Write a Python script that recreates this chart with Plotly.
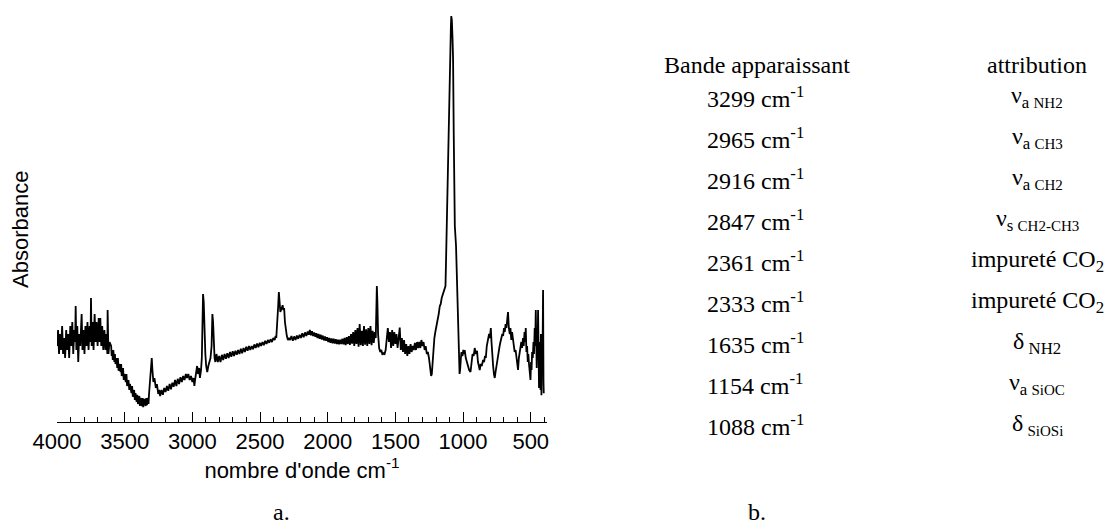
import plotly.graph_objects as go

# ---- spectrum data (wavenumber cm-1, absorbance a.u.) ----
region_oh = [
    (4000, 0.19), (3992, 0.23), (3985, 0.17), (3978, 0.22), (3970, 0.18), (3962, 0.24),
    (3955, 0.17), (3948, 0.21), (3940, 0.16), (3932, 0.23), (3925, 0.18), (3917, 0.22),
    (3910, 0.16), (3902, 0.24), (3895, 0.19), (3887, 0.25), (3880, 0.17), (3872, 0.23),
    (3866, 0.20), (3862, 0.29), (3857, 0.18), (3850, 0.24), (3843, 0.15), (3836, 0.22),
    (3828, 0.19), (3818, 0.27), (3812, 0.18), (3805, 0.23), (3797, 0.17), (3790, 0.24),
    (3782, 0.19), (3775, 0.25), (3767, 0.18), (3759, 0.24), (3752, 0.20), (3749, 0.31),
    (3744, 0.19), (3737, 0.25), (3730, 0.18), (3722, 0.27), (3715, 0.20), (3708, 0.25),
    (3700, 0.19), (3692, 0.26), (3686, 0.20), (3680, 0.26), (3673, 0.19), (3666, 0.24),
    (3658, 0.18), (3650, 0.23), (3642, 0.18), (3635, 0.22), (3628, 0.17), (3626, 0.28),
    (3620, 0.17), (3612, 0.20),
]
region_nh = [
    (3600, 0.19), (3596, 0.165), (3592, 0.18), (3588, 0.155), (3584, 0.18), (3576, 0.15),
    (3572, 0.17), (3568, 0.145), (3560, 0.16), (3555, 0.135), (3550, 0.16), (3545, 0.128),
    (3540, 0.145), (3530, 0.125), (3526, 0.145), (3522, 0.115), (3512, 0.135), (3507, 0.105),
    (3502, 0.12), (3492, 0.10), (3487, 0.12), (3482, 0.09), (3472, 0.105), (3466, 0.08),
    (3461, 0.095), (3450, 0.072), (3445, 0.09), (3440, 0.063), (3430, 0.08), (3425, 0.055),
    (3420, 0.072), (3412, 0.05), (3407, 0.068), (3402, 0.045), (3392, 0.065), (3387, 0.04),
    (3382, 0.06), (3372, 0.04), (3367, 0.06), (3363, 0.037), (3354, 0.058), (3345, 0.04),
    (3340, 0.06), (3336, 0.042), (3328, 0.06), (3324, 0.045),
    (3320, 0.07), (3312, 0.10), (3305, 0.14), (3300, 0.16), (3295, 0.13), (3288, 0.10),
    (3280, 0.11), (3270, 0.085), (3262, 0.095), (3252, 0.07), (3245, 0.08), (3238, 0.065),
]
region_ch = [
    (3228, 0.08), (3218, 0.068), (3208, 0.085), (3198, 0.075), (3188, 0.09), (3178, 0.078),
    (3168, 0.095), (3158, 0.082), (3148, 0.098), (3138, 0.088), (3128, 0.105), (3118, 0.09),
    (3108, 0.108), (3098, 0.095), (3088, 0.112), (3078, 0.10), (3068, 0.115), (3058, 0.105),
    (3048, 0.12), (3040, 0.11), (3030, 0.12), (3020, 0.105), (3010, 0.115), (3000, 0.10),
    (2992, 0.11), (2985, 0.09), (2978, 0.11), (2970, 0.13), (2965, 0.14), (2958, 0.12),
    (2950, 0.135), (2944, 0.11), (2936, 0.13), (2930, 0.16), (2926, 0.24), (2921, 0.32),
    (2916, 0.30), (2910, 0.22), (2904, 0.17), (2898, 0.14), (2890, 0.125), (2882, 0.14),
    (2874, 0.15), (2866, 0.16), (2858, 0.19), (2852, 0.27), (2847, 0.25), (2842, 0.19),
    (2836, 0.16), (2830, 0.15),
]
region_slope = [
    (2822, 0.17), (2812, 0.15), (2802, 0.165), (2792, 0.15), (2782, 0.168), (2772, 0.155),
    (2762, 0.17), (2752, 0.158), (2742, 0.172), (2732, 0.16), (2722, 0.175), (2712, 0.163),
    (2702, 0.177), (2692, 0.165), (2682, 0.178), (2672, 0.168), (2662, 0.18), (2652, 0.17),
    (2642, 0.183), (2632, 0.172), (2622, 0.185), (2612, 0.175), (2602, 0.188), (2592, 0.178),
    (2582, 0.19), (2572, 0.18), (2562, 0.19), (2552, 0.182), (2542, 0.194), (2532, 0.185),
    (2522, 0.196), (2512, 0.187), (2502, 0.198), (2492, 0.19), (2482, 0.20), (2472, 0.192),
    (2462, 0.203), (2452, 0.195), (2442, 0.205), (2432, 0.198), (2422, 0.207), (2412, 0.20),
    (2402, 0.21), (2392, 0.205), (2385, 0.215),
]
region_co2 = [
    (2380, 0.21), (2373, 0.24), (2366, 0.29), (2361, 0.325), (2356, 0.30), (2350, 0.275),
    (2345, 0.28), (2338, 0.29), (2333, 0.292), (2328, 0.28), (2322, 0.285), (2316, 0.25),
    (2310, 0.23), (2302, 0.215), (2294, 0.205), (2286, 0.21),
]
region_flat = [
    (2278, 0.205), (2268, 0.215), (2258, 0.203), (2248, 0.214), (2238, 0.205), (2228, 0.216),
    (2218, 0.208), (2208, 0.218), (2198, 0.21), (2188, 0.222), (2178, 0.212), (2168, 0.224),
    (2158, 0.215), (2148, 0.226), (2140, 0.218), (2132, 0.23), (2124, 0.217), (2116, 0.227),
    (2108, 0.215), (2100, 0.224), (2092, 0.213), (2084, 0.222), (2076, 0.21), (2068, 0.22),
    (2060, 0.208), (2052, 0.218), (2044, 0.206), (2036, 0.216), (2028, 0.204), (2020, 0.214),
    (2012, 0.203), (2004, 0.212), (1996, 0.20), (1988, 0.21), (1980, 0.198), (1972, 0.209),
    (1964, 0.197), (1956, 0.208), (1948, 0.196), (1940, 0.207), (1932, 0.195), (1924, 0.206),
    (1916, 0.194), (1908, 0.206), (1900, 0.195), (1892, 0.208), (1884, 0.194), (1876, 0.21),
    (1868, 0.192), (1860, 0.212), (1852, 0.195), (1844, 0.215), (1836, 0.193), (1828, 0.22),
    (1820, 0.196), (1812, 0.225), (1804, 0.19), (1796, 0.23), (1788, 0.195), (1780, 0.235),
    (1772, 0.188), (1764, 0.245), (1756, 0.192), (1748, 0.228), (1740, 0.19), (1732, 0.24),
    (1724, 0.193), (1716, 0.232), (1708, 0.19), (1700, 0.235), (1692, 0.195), (1684, 0.24),
    (1676, 0.192), (1668, 0.228), (1660, 0.198), (1652, 0.225), (1645, 0.21),
]
region_nh2_bend = [
    (1640, 0.26), (1637, 0.34), (1633, 0.30), (1628, 0.22), (1620, 0.185), (1612, 0.175),
    (1604, 0.18), (1596, 0.168), (1588, 0.172), (1580, 0.17), (1572, 0.18), (1564, 0.205),
    (1556, 0.235), (1548, 0.20), (1540, 0.225), (1532, 0.185), (1524, 0.23), (1516, 0.19),
    (1508, 0.225), (1500, 0.195), (1492, 0.22), (1484, 0.185), (1476, 0.215), (1468, 0.236),
    (1460, 0.18), (1452, 0.21), (1444, 0.175), (1436, 0.205), (1428, 0.17), (1420, 0.195),
    (1412, 0.165), (1404, 0.19), (1396, 0.17), (1388, 0.195), (1380, 0.175), (1372, 0.19),
    (1364, 0.18), (1356, 0.198), (1348, 0.18), (1340, 0.20), (1332, 0.185), (1324, 0.20),
    (1316, 0.185), (1308, 0.205), (1300, 0.19), (1292, 0.20), (1284, 0.18), (1276, 0.19),
    (1268, 0.17), (1260, 0.175), (1252, 0.16), (1244, 0.13), (1236, 0.115), (1231, 0.12),
    (1226, 0.145),
]
region_sioc = [
    (1220, 0.18), (1212, 0.21), (1205, 0.225), (1196, 0.24), (1188, 0.255), (1180, 0.27),
    (1172, 0.29), (1165, 0.295), (1158, 0.31), (1150, 0.32), (1140, 0.33), (1130, 0.34),
    (1126, 0.40), (1120, 0.50), (1115, 0.62), (1110, 0.74), (1103, 0.82), (1096, 0.93),
    (1090, 0.99), (1087, 1.015), (1083, 1.005), (1078, 0.96), (1074, 0.91), (1069, 0.72),
    (1061, 0.49), (1052, 0.44), (1045, 0.36), (1038, 0.28), (1031, 0.17), (1026, 0.12),
    (1022, 0.13),
]
region_low = [
    (1016, 0.16), (1012, 0.175), (1005, 0.165), (998, 0.18), (992, 0.17), (988, 0.18),
    (980, 0.16), (972, 0.15), (963, 0.14), (955, 0.13), (945, 0.125), (938, 0.15),
    (930, 0.17), (922, 0.165), (914, 0.185), (906, 0.17), (897, 0.178), (890, 0.15),
    (884, 0.14), (877, 0.13), (870, 0.145), (862, 0.14), (852, 0.155), (845, 0.15),
    (838, 0.165), (832, 0.16), (825, 0.19), (818, 0.20), (812, 0.215), (808, 0.22),
    (802, 0.21), (795, 0.235), (790, 0.20), (785, 0.165), (778, 0.14), (772, 0.12),
    (766, 0.11), (760, 0.125), (754, 0.14), (748, 0.15), (742, 0.16), (736, 0.18),
    (730, 0.19), (724, 0.20), (717, 0.21), (710, 0.22), (704, 0.215), (698, 0.235),
    (692, 0.225), (686, 0.245), (680, 0.235), (674, 0.25), (668, 0.275), (662, 0.235),
    (655, 0.22), (650, 0.235), (644, 0.205), (638, 0.225), (631, 0.205), (625, 0.19),
    (619, 0.175), (612, 0.18), (606, 0.16), (600, 0.145), (594, 0.13), (588, 0.16),
    (582, 0.175), (576, 0.19), (570, 0.20), (564, 0.185), (557, 0.21), (552, 0.19),
    (546, 0.225), (541, 0.20), (537, 0.235), (532, 0.175), (527, 0.19), (522, 0.15),
    (518, 0.17), (513, 0.145), (508, 0.125), (502, 0.105), (498, 0.15), (494, 0.13),
    (490, 0.175), (485, 0.16), (480, 0.20), (476, 0.17), (471, 0.235), (467, 0.19),
    (463, 0.28), (459, 0.16), (456, 0.135), (452, 0.23), (449, 0.175), (446, 0.28),
    (443, 0.12), (439, 0.085), (435, 0.20), (432, 0.11), (428, 0.08), (425, 0.22),
    (421, 0.067), (418, 0.18), (414, 0.145), (411, 0.25), (409, 0.33), (406, 0.10),
    (404, 0.072),
]

x_range = [4000, 380]
y_range = [0, 1.03]
x_major_ticks = [4000, 3500, 3000, 2500, 2000, 1500, 1000, 500]
x_tick_labels = ["4000", "3500", "3000", "2500", "2000", "1500", "1000", "500"]

# ---- table (part b) ----
table_header = ["Bande apparaissant", "attribution"]
band_values = [3299, 2965, 2916, 2847, 2361, 2333, 1635, 1154, 1088]
band_attributions = [
    "ν<sub>a <span style='font-size:15px'>NH2</span></sub>",
    "ν<sub>a <span style='font-size:15px'>CH3</span></sub>",
    "ν<sub>a <span style='font-size:15px'>CH2</span></sub>",
    "ν<sub>s <span style='font-size:15px'>CH2-CH3</span></sub>",
    "impureté CO<sub>2</sub>",
    "impureté CO<sub>2</sub>",
    "δ<sub> NH2</sub>",
    "ν<sub>a <span style='font-size:15px'>SiOC</span></sub>",
    "δ<sub> <span style='font-size:15px'>SiOSi</span></sub>",
]

spectrum = (region_oh + region_nh + region_ch + region_slope + region_co2
            + region_flat + region_nh2_bend + region_sioc + region_low)
wavenumbers = [p[0] for p in spectrum]
absorbance = [p[1] for p in spectrum]

# page body has an 8px default margin: size the figure to compensate
OFF = 8
W, H = 1113 - OFF, 527 - OFF
PLOT_X0, PLOT_X1, PLOT_Y0, PLOT_Y1 = 57, 547, 10, 422   # target screen pixels
L, T = PLOT_X0 - OFF, PLOT_Y0 - OFF
R, B = 1113 - PLOT_X1, 527 - PLOT_Y1
PW, PH = PLOT_X1 - PLOT_X0, PLOT_Y1 - PLOT_Y0


def px2paper(px, py):
    return (px - PLOT_X0) / PW, (PLOT_Y1 - py) / PH


fig = go.Figure()
fig.add_trace(go.Scatter(
    x=wavenumbers, y=absorbance, mode="lines",
    line=dict(color="black", width=1.8), showlegend=False, hoverinfo="skip",
))

SANS = "Liberation Sans, Arial, sans-serif"
SERIF = "Liberation Serif, Times New Roman, serif"

annotations = []
ax, ay = px2paper(20, 230)
annotations.append(dict(x=ax, y=ay, xref="paper", yref="paper", text="Absorbance",
                        textangle=-90, showarrow=False, xanchor="center", yanchor="middle",
                        font=dict(family=SANS, size=22, color="black")))
ax, ay = px2paper(281, 512)
annotations.append(dict(x=ax, y=ay, xref="paper", yref="paper", text="a.",
                        showarrow=False, xanchor="center", yanchor="middle",
                        font=dict(family=SERIF, size=24, color="black")))
ax, ay = px2paper(757, 512)
annotations.append(dict(x=ax, y=ay, xref="paper", yref="paper", text="b.",
                        showarrow=False, xanchor="center", yanchor="middle",
                        font=dict(family=SERIF, size=24, color="black")))
ATTR_X = 1037
for text, cx in zip(table_header, [757, ATTR_X]):
    ax, ay = px2paper(cx, 65)
    annotations.append(dict(x=ax, y=ay, xref="paper", yref="paper", text=text,
                            showarrow=False, xanchor="center", yanchor="middle",
                            font=dict(family=SERIF, size=24, color="black")))
for i, (val, attr) in enumerate(zip(band_values, band_attributions)):
    cy = 97 + 41 * i
    ax, ay = px2paper(755, cy)
    annotations.append(dict(x=ax, y=ay, xref="paper", yref="paper",
                            text=f"{val} cm<sup>-1</sup>",
                            showarrow=False, xanchor="center", yanchor="middle",
                            font=dict(family=SERIF, size=24, color="black")))
    ax, ay = px2paper(ATTR_X, cy)
    annotations.append(dict(x=ax, y=ay, xref="paper", yref="paper", text=attr,
                            showarrow=False, xanchor="center", yanchor="middle",
                            font=dict(family=SERIF, size=24, color="black")))

fig.update_layout(
    width=W, height=H,
    margin=dict(l=L, r=R, t=T, b=B, pad=0),
    paper_bgcolor="white", plot_bgcolor="white",
    showlegend=False,
    annotations=annotations,
    xaxis=dict(
        range=x_range, showgrid=False, zeroline=False,
        showline=True, linecolor="black", linewidth=1,
        ticks="inside", ticklen=10, tickwidth=1, tickcolor="black",
        tickvals=x_major_ticks, ticktext=x_tick_labels,
        minor=dict(dtick=100, tick0=0, ticks="inside", ticklen=5, tickwidth=1,
                   tickcolor="black", showgrid=False),
        tickfont=dict(family=SANS, size=22, color="black"),
        title=dict(text="nombre d'onde cm<sup>-1</sup>",
                   font=dict(family=SANS, size=22, color="black"), standoff=4),
        fixedrange=True,
    ),
    yaxis=dict(range=y_range, visible=False, showgrid=False, zeroline=False, fixedrange=True),
)

fig.write_html("out.html")
